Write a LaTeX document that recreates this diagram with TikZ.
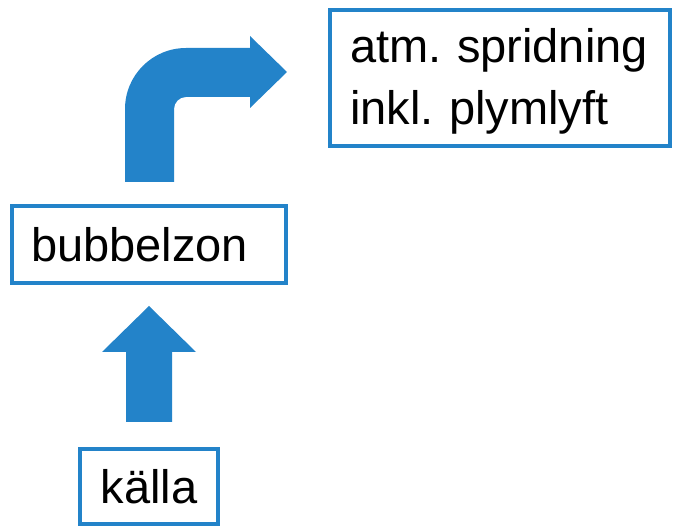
\documentclass[tikz,border=0pt]{standalone}
\usepackage{fontspec}
\setmainfont{Liberation Sans}
\frenchspacing
\definecolor{flowblue}{RGB}{35,131,201}
\tikzstyle{box}=[draw=flowblue,line width=4pt,inner sep=0pt,font=\fontsize{47}{62}\selectfont]
\tikzstyle{bigarrow}=[fill=flowblue]

\begin{document}
\begin{tikzpicture}[x=1pt,y=1pt]
\useasboundingbox (0,0) rectangle (673,528);

\node[box, minimum width=138pt, minimum height=75pt] (kalla) at (149, 41.5) {källa};
\node[box, minimum height=77pt, text width=236pt, inner xsep=19pt, align=left] (bubbel) at (149, 283.5) {bubbelzon};
\node[box, minimum height=136pt, text width=300pt, inner xsep=20pt, align=left] (atm) at (500, 450) {\rule{0pt}{40pt}atm. spridning\\inkl. plymlyft};

% kalla -> bubbelzon
\fill[bigarrow] (126,106) -- (126,176) -- (102,176) -- (149,222) -- (196,176) -- (172,176) -- (172,106) -- cycle;

% bubbelzon -> atm
\fill[bigarrow] (125,346) -- (125,419) arc[start angle=180, end angle=90, radius=61] -- (250,480) -- (250,492) -- (287,456)
  -- (250,420) -- (250,431) -- (186,431) arc[start angle=90, end angle=180, radius=12] -- (174,346) -- cycle;

\end{tikzpicture}
\end{document}
